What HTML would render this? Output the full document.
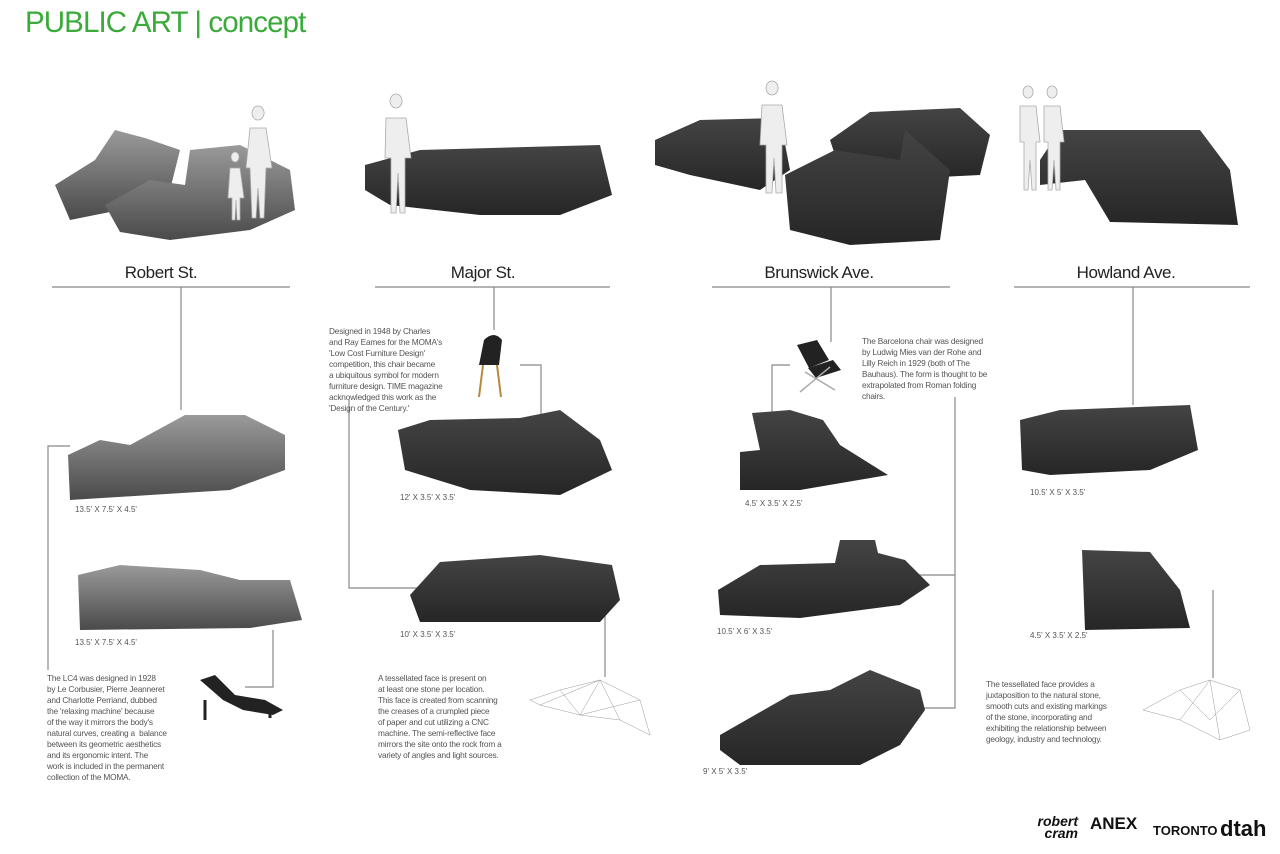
<!DOCTYPE html>
<html><head><meta charset="utf-8"><style>
body{margin:0;width:1280px;height:854px;background:#fff;position:relative;overflow:hidden;font-family:"Liberation Sans",sans-serif}
.t{position:absolute;font-size:8.3px;line-height:11px;color:#555;letter-spacing:-0.2px}
.h{position:absolute;font-size:17px;color:#222;text-align:center;width:240px;letter-spacing:-0.4px}
.d{position:absolute;font-size:8px;color:#555}
svg{position:absolute;left:0;top:0}
</style></head><body>
<div style="position:absolute;left:25px;top:6px;font-size:29.5px;color:#3aaa3a;letter-spacing:-0.9px;font-family:'Liberation Sans Narrow','Liberation Sans',sans-serif">PUBLIC ART | concept</div>
<div class="h" style="left:41px;top:263px">Robert St.</div>
<div class="h" style="left:363px;top:263px">Major St.</div>
<div class="h" style="left:699px;top:263px">Brunswick Ave.</div>
<div class="h" style="left:1006px;top:263px">Howland Ave.</div>

<svg width="1280" height="854">
<defs>
<linearGradient id="g1" x1="0" y1="0" x2="0" y2="1"><stop offset="0" stop-color="#9a9a9a"/><stop offset="1" stop-color="#4a4a4a"/></linearGradient>
<linearGradient id="g2" x1="0" y1="0" x2="0" y2="1"><stop offset="0" stop-color="#444"/><stop offset="1" stop-color="#262626"/></linearGradient>
</defs>
<g stroke="#888" stroke-width="1.2" fill="none">
<path d="M52 287H290M181 287V410M48 670V446H70M245 687H273V630"/>
<path d="M375 287H610M494 287V330M520 365H541V450M349 400V588H420M605 585V677"/>
<path d="M712 287H950M831 287V342M790 365H772V452M955 397V708H885M900 575H955"/>
<path d="M1014 287H1250M1133 287V405M1213 590V678"/>
</g>
<g fill="url(#g1)">
<path d="M55 185L95 160L115 130L145 138L180 150L170 190L120 210L70 220Z"/>
<path d="M105 205L150 180L185 185L190 150L240 145L290 170L295 210L250 230L170 240L120 232Z"/>
</g>
<g fill="url(#g2)">
<path d="M365 165L420 150L600 145L612 195L560 215L480 215L390 205L365 190Z"/>
<path d="M655 140L700 120L780 118L790 170L760 190L690 175L655 165Z"/>
<path d="M830 140L870 112L960 108L990 135L980 175L880 180L840 170Z"/>
<path d="M785 175L835 150L900 160L905 130L950 170L940 240L850 245L790 230Z"/>
<path d="M1040 160L1060 130L1200 130L1230 170L1238 225L1110 222L1085 180L1040 185Z"/>
</g>
<g fill="url(#g2)">
<path d="M68 455L100 440L130 445L185 415L245 415L285 435L285 470L230 490L150 495L70 500Z" fill="url(#g1)"/>
<path d="M398 430L430 420L520 418L560 410L600 440L612 470L560 495L470 490L405 470Z"/>
<path d="M752 413L790 410L823 420L840 445L888 475L800 490L740 490L740 452L760 450Z"/>
<path d="M1020 420L1060 410L1190 405L1198 450L1150 470L1050 475L1022 470Z"/>
<path d="M78 575L120 565L200 570L240 580L290 580L302 620L250 628L80 630Z" fill="url(#g1)"/>
<path d="M410 595L440 562L540 555L612 565L620 600L600 622L420 622Z"/>
<path d="M718 590L760 565L835 563L840 540L875 540L878 553L905 560L930 585L900 605L800 618L720 615Z"/>
<path d="M1082 550L1150 552L1180 590L1190 628L1085 630Z"/>
<path d="M720 735L790 695L830 690L870 670L920 690L925 710L900 745L860 765L740 765L720 750Z"/>
</g>
<g fill="#eee" stroke="#aaa" stroke-width="0.8">
<path d="M258 120a6 7 0 1 1 .1 0M250 128h16l6 40h-6l-2 50h-4l-2-30-2 30h-4l-2-50h-4z"/>
<path d="M235 162a4 5 0 1 1 .1 0M230 168h10l4 30h-4v22h-3l-1-20-1 20h-3v-22h-4z"/>
<path d="M396 108a6 7 0 1 1 .1 0M386 118h20l5 40h-6v55h-5l-2-40-2 40h-5v-55h-6z"/>
<path d="M772 95a6 7 0 1 1 .1 0M762 105h20l5 40h-5v48h-6l-2-35-2 35h-6v-48h-6z"/>
<path d="M1028 98a5 6 0 1 1 .1 0M1020 106h16l4 36h-4v48h-4l-2-30-2 30h-4v-48h-4z"/>
<path d="M1052 98a5 6 0 1 1 .1 0M1044 106h16l4 36h-4v48h-4l-2-30-2 30h-4v-48h-4z"/>
</g>
<g fill="#222">
<path d="M484 340q10-10 18 0l-3 25h-20z"/><path d="M483 365l-4 32M497 365l4 32" stroke="#b8893a" stroke-width="2"/>
<path d="M797 345l20-5 12 20-20 8z"/><path d="M808 368l25-8 8 10-25 8z"/><path d="M800 392l30-25M805 372l30 18" stroke="#aaa" stroke-width="1.5"/>
<path d="M200 680l15-5 20 20 30 5 18 10-10 5-30-5-20-10z"/><path d="M205 700v20M270 710v8" stroke="#222" stroke-width="3"/>
</g>
<g fill="none" stroke="#999" stroke-width="0.5">
<path d="M530 700L560 690L600 680L640 700L650 735L620 720L580 715L540 705ZM560 690L580 715L600 680L620 720M540 705L600 680M580 715L640 700"/>
<path d="M1143 710L1180 690L1210 680L1240 690L1250 730L1220 740L1180 720ZM1180 690L1210 720L1240 690M1180 720L1210 680L1220 740"/>
</g>
</svg>

<div class="t" style="left:329px;top:326px;width:135px">Designed in 1948 by Charles<br>and Ray Eames for the MOMA's<br>'Low Cost Furniture Design'<br>competition, this chair became<br>a ubiquitous symbol for modern<br>furniture design. TIME magazine<br>acknowledged this work as the<br>'Design of the Century.'</div>
<div class="t" style="left:862px;top:336px;width:150px">The Barcelona chair was designed<br>by Ludwig Mies van der Rohe and<br>Lilly Reich in 1929 (both of The<br>Bauhaus). The form is thought to be<br>extrapolated from Roman folding<br>chairs.</div>
<div class="t" style="left:47px;top:673px;width:150px">The LC4 was designed in 1928<br>by Le Corbusier, Pierre Jeanneret<br>and Charlotte Perriand, dubbed<br>the 'relaxing machine' because<br>of the way it mirrors the body's<br>natural curves, creating a &nbsp;balance<br>between its geometric aesthetics<br>and its ergonomic intent. The<br>work is included in the permanent<br>collection of the MOMA.</div>
<div class="t" style="left:378px;top:673px;width:150px">A tessellated face is present on<br>at least one stone per location.<br>This face is created from scanning<br>the creases of a crumpled piece<br>of paper and cut utilizing a CNC<br>machine. The semi-reflective face<br>mirrors the site onto the rock from a<br>variety of angles and light sources.</div>
<div class="t" style="left:986px;top:679px;width:150px">The tessellated face provides a<br>juxtaposition to the natural stone,<br>smooth cuts and existing markings<br>of the stone, incorporating and<br>exhibiting the relationship between<br>geology, industry and technology.</div>
<div class="d" style="left:75px;top:505px">13.5' X 7.5' X 4.5'</div>
<div class="d" style="left:400px;top:493px">12' X 3.5' X 3.5'</div>
<div class="d" style="left:745px;top:499px">4.5' X 3.5' X 2.5'</div>
<div class="d" style="left:1030px;top:488px">10.5' X 5' X 3.5'</div>
<div class="d" style="left:75px;top:638px">13.5' X 7.5' X 4.5'</div>
<div class="d" style="left:400px;top:630px">10' X 3.5' X 3.5'</div>
<div class="d" style="left:717px;top:627px">10.5' X 6' X 3.5'</div>
<div class="d" style="left:1030px;top:631px">4.5' X 3.5' X 2.5'</div>
<div class="d" style="left:703px;top:767px">9' X 5' X 3.5'</div>
<div style="position:absolute;left:1028px;top:815px;font:italic bold 14px/12px 'Liberation Sans',sans-serif;color:#111;text-align:right;width:50px">robert<br>cram</div>
<div style="position:absolute;left:1090px;top:814px;font:bold 17px 'Liberation Sans',sans-serif;color:#111">ANEX</div>
<div style="position:absolute;left:1153px;top:823px;font:bold 13px 'Liberation Sans',sans-serif;color:#111">TORONTO</div>
<div style="position:absolute;left:1220px;top:816px;font:bold 22px 'Liberation Sans',sans-serif;color:#111">dtah</div>
</body></html>
